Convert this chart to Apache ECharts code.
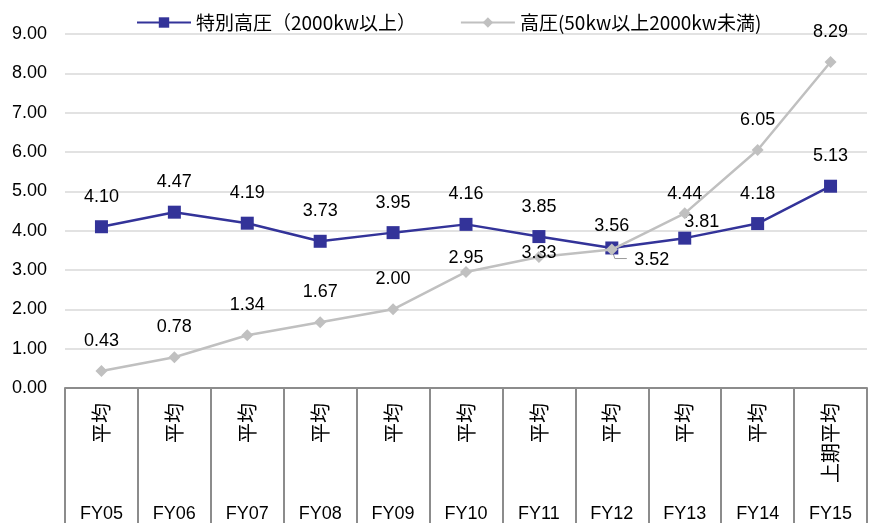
<!DOCTYPE html>
<html><head><meta charset="utf-8">
<script src="https://cdn.jsdelivr.net/npm/echarts@6/dist/echarts.min.js"></script>
<style>html,body{margin:0;padding:0;background:#fff}#c{width:875px;height:523px}</style>
</head><body><div id="c"></div>
<script>
const categories = ['FY05','FY06','FY07','FY08','FY09','FY10','FY11','FY12','FY13','FY14','FY15'];
const periodLabels = ['平均','平均','平均','平均','平均','平均','平均','平均','平均','平均','上期平均'];
const seriesNames = ['特別高圧（2000kw以上）','高圧(50kw以上2000kw未満)'];
const tokubetsu = [4.10,4.47,4.19,3.73,3.95,4.16,3.85,3.56,3.81,4.18,5.13];
const koatsu = [0.43,0.78,1.34,1.67,2.00,2.95,3.33,3.52,4.44,6.05,8.29];

// label placement tweaks (style only)
const blueLabelOffsets = {7:[0,-22], 8:[17,-16]};
const grayLabelOffsets = {5:[0,-14], 6:[0,-4], 7:[40,10], 8:[0,-19]};

const numFont = '"Liberation Sans", Arial, "Noto Sans CJK JP", sans-serif';
const jpFont = '"Noto Sans CJK JP", "Liberation Sans", sans-serif';

function buildData(values, offsets){
  return values.map((v,i)=>({
    value: v,
    label: { offset: offsets[i] || [0,-30] }
  }));
}

const chart = echarts.init(document.getElementById('c'), null, {renderer:'canvas'});
const option = {
  animation: false,
  backgroundColor: '#fff',
  legend: {
    top: 8,
    left: 131,
    itemWidth: 54,
    itemHeight: 13,
    itemGap: 44,
    textStyle: { fontFamily: jpFont, fontSize: 19, color: '#000' },
    data: seriesNames
  },
  grid: { left: 65, right: 8, top: 34, bottom: 132, containLabel: false },
  xAxis: [
    {
      type: 'category',
      data: periodLabels,
      boundaryGap: true,
      axisLine: { show: true, lineStyle: { color: '#8c8c8c', width: 2 } },
      axisTick: { show: true, interval: 0, alignWithLabel: false, length: 140, lineStyle: { color: '#8c8c8c', width: 2 } },
      axisLabel: { interval: 0, rotate: 90, margin: 15, fontFamily: jpFont, fontSize: 20, color: '#000' },
      splitLine: { show: false }
    },
    {
      type: 'category',
      data: categories,
      position: 'bottom',
      boundaryGap: true,
      axisLine: { show: false },
      axisTick: { show: false },
      axisLabel: { interval: 0, margin: 117, fontFamily: numFont, fontSize: 18, color: '#000' },
      splitLine: { show: false }
    }
  ],
  yAxis: {
    type: 'value',
    min: 0, max: 9, interval: 1,
    axisLine: { show: false },
    axisTick: { show: false },
    axisLabel: { margin: 18, fontFamily: numFont, fontSize: 18, color: '#000', formatter: v => v.toFixed(2) },
    splitLine: { lineStyle: { color: '#d9d9d9', width: 1.5 } }
  },
  series: [
    {
      name: seriesNames[0],
      type: 'line',
      xAxisIndex: 0,
      data: buildData(tokubetsu, blueLabelOffsets),
      symbol: 'rect',
      symbolSize: 13,
      lineStyle: { color: '#333399', width: 2.5 },
      itemStyle: { color: '#333399' },
      label: { show: true, position: 'inside', fontFamily: numFont, fontSize: 18, color: '#000', formatter: p => p.value.toFixed(2) },
      z: 2
    },
    {
      name: seriesNames[1],
      type: 'line',
      xAxisIndex: 0,
      data: buildData(koatsu, grayLabelOffsets),
      symbol: 'diamond',
      symbolSize: 12,
      lineStyle: { color: '#c0c0c0', width: 2.5 },
      itemStyle: { color: '#c0c0c0' },
      label: { show: true, position: 'inside', fontFamily: numFont, fontSize: 18, color: '#000', formatter: p => p.value.toFixed(2) },
      z: 3
    }
  ]
};
chart.setOption(option);

// leader line for the moved label of FY12 (gray series)
const p = chart.convertToPixel({xAxisIndex:0, yAxisIndex:0}, [7, koatsu[7]]);
chart.setOption({
  graphic: [{
    type: 'polyline',
    shape: { points: [[p[0], p[1]], [p[0]+3, p[1]+9], [p[0]+15, p[1]+9]] },
    style: { stroke: '#999', lineWidth: 1, fill: null },
    z: 1
  }]
});
</script>
</body></html>
